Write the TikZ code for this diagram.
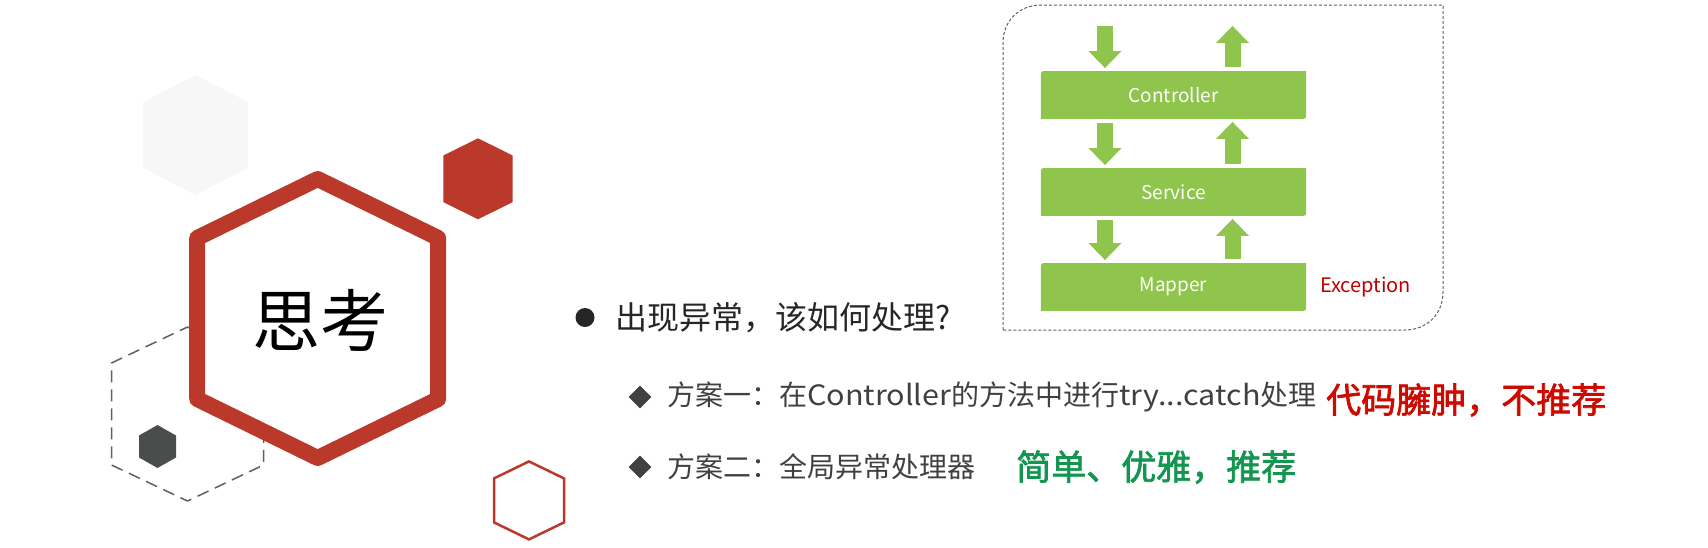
\documentclass[tikz,border=0pt]{standalone}
\usepackage{fontspec}
\setmainfont{Noto Sans CJK SC}
\newfontfamily\handfont{Noto Sans CJK SC}[FakeBold=2]
\newfontfamily\widefont{Noto Sans CJK SC}[FakeStretch=1.09]
\usepackage{xcolor}
\usepackage{tikz}
\usetikzlibrary{
	arrows.meta,shapes.geometric,backgrounds,positioning
}

\definecolor{hexred}{RGB}{186,57,42}
\definecolor{faintgrey}{RGB}{247,247,247}
\definecolor{dashgrey}{RGB}{95,95,95}
\definecolor{darkhex}{RGB}{75,77,76}
\definecolor{layergreen}{RGB}{143,196,77}
\definecolor{excred}{RGB}{192,0,0}
\definecolor{bodytext}{RGB}{38,38,38}
\definecolor{plantext}{RGB}{64,64,64}
\definecolor{badred}{RGB}{204,10,0}
\definecolor{goodgreen}{RGB}{20,150,80}

% centre x, centre y, half width, apex, shoulder
\newcommand{\hexpath}[5]{(#1,#2-#4) -- (#1+#3,#2-#5) -- (#1+#3,#2+#5) -- (#1,#2+#4) -- (#1-#3,#2+#5) -- (#1-#3,#2-#5) -- cycle}

\tikzset{
	layer/.style={minimum width=265pt, minimum height=47.5pt, inner sep=0pt, text=white, font=\fontsize{19}{19}\selectfont},
	flow/.style={draw=layergreen, line width=16pt, shorten <=4pt, shorten >=3pt, -{Triangle[length=17pt,width=33pt,line width=0pt]}},
	plan/.style={anchor=west, inner sep=0pt, text=plantext, font=\fontsize{28}{28}\selectfont},
	hand/.style={anchor=west, inner sep=0pt, font=\handfont\fontsize{35}{35}\selectfont},
	planmark/.style={diamond, fill=plantext, minimum size=23pt, inner sep=0pt},
}

\begin{document}
\begin{tikzpicture}[x=1pt,y=-1pt]
			\useasboundingbox (0,0) rectangle (1708,547);
			%
			\fill[faintgrey] \hexpath{195.5}{135}{52.5}{60}{33};
			\draw[dashgrey, line width=1.5pt, dash pattern=on 12pt off 7pt] \hexpath{187.5}{414}{76}{87}{51};
			\fill[darkhex] \hexpath{157.5}{446.5}{18.5}{21.5}{11};
			\draw[hexred, fill=white, line width=16pt, line join=round] \hexpath{317.7}{318.5}{120.5}{139.5}{80.5};
			\fill[hexred] \hexpath{478}{178.8}{34.7}{40.5}{23.3};
			\draw[hexred, line width=2.5pt] \hexpath{529}{500.4}{35}{39}{22};
			\node[font=\fontsize{68}{68}\selectfont] (think) at (320,320) {思考};
			%
			\node[circle, fill=bodytext, minimum size=19pt, inner sep=0pt] (dot) at (585,317.5) {};
			\node[anchor=west, inner sep=0pt, text=bodytext, font=\fontsize{32}{32}\selectfont] (ask) at (615,318) {出现异常，该如何处理?};
			\node[planmark] (mark1) at (640,397) {};
			\node[plan] (plan1) at (667,397) {方案一：在{\widefont Controller}的方法中进行{\widefont try...catch}处理};
			\node[hand, text=badred] (bad) at (1326,400) {代码臃肿，不推荐};
			\node[planmark] (mark2) at (640,467) {};
			\node[plan] (plan2) at (667,467) {方案二：全局异常处理器};
			\node[hand, text=goodgreen] (good) at (1016,467) {简单、优雅，推荐};
			%
			\draw[dashgrey, line width=1pt, dash pattern=on 3pt off 2pt] (1003,330) -- (1003,43) .. controls (1003,20) and (1020,5) .. (1041,5) -- (1443,5) -- (1443,292) .. controls (1443,315) and (1426,330) .. (1405,330) -- cycle;
			\node[layer] (ctrl) at (1173.5,95) {Controller};
			\node[layer] (svc) at (1173.5,192) {Service};
			\node[layer] (map) at (1173.5,287) {Mapper};
			\node[anchor=west, inner sep=0pt, text=excred, font=\fontsize{20}{20}\selectfont] (exc) at (1320,287) {Exception};
			\coordinate (req) at (1105,22);
			\coordinate (resp) at (1232.5,23);
			\begin{scope}[on background layer]
				\foreach \n in {ctrl,svc,map}
					\fill[layergreen] (\n.south west) -- ([yshift=-6pt]\n.north west) .. controls (\n.north west) .. ([xshift=6pt]\n.north west) -- (\n.north east) -- ([yshift=6pt]\n.south east) .. controls (\n.south east) .. ([xshift=-6pt]\n.south east) -- cycle;
			\end{scope}
			%
			\draw[flow] (req) -- ([xshift=-68.5pt]ctrl.north);
			\draw[flow] ([xshift=59pt]ctrl.north) -- (resp);
			\foreach \a/\b in {ctrl/svc,svc/map}{
				\draw[flow] ([xshift=-68.5pt]\a.south) -- ([xshift=-68.5pt]\b.north);
				\draw[flow] ([xshift=59pt]\b.north) -- ([xshift=59pt]\a.south);
			}
		\end{tikzpicture}
\end{document}
